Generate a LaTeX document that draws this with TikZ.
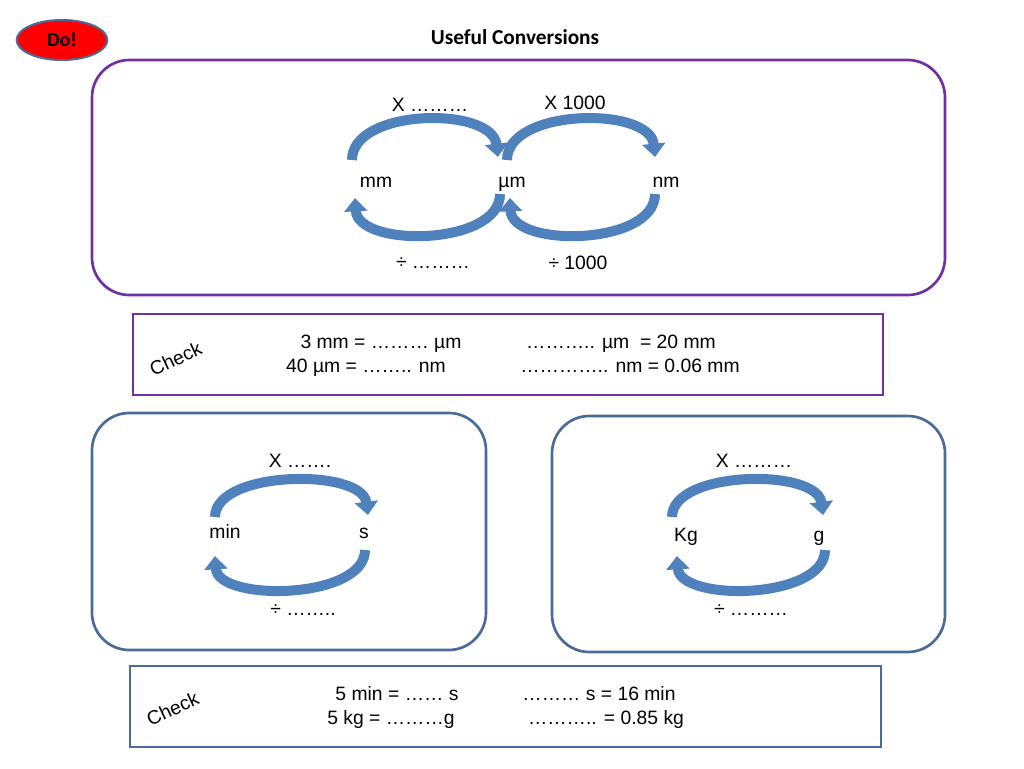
\documentclass[tikz,border=0pt]{standalone}
\usepackage{fontspec}
\setmainfont{Liberation Sans}
\newfontfamily\calib{Carlito}
\usetikzlibrary{arrows.meta,shapes.geometric}
\definecolor{arrblue}{HTML}{4F81BD}
\definecolor{boxblue}{HTML}{4A6A9A}
\definecolor{boxpurple}{HTML}{7030A0}
\tikzset{
  lbl/.style={font=\fontsize{14.5}{16}\selectfont, inner sep=1pt, text height=0.75em, text depth=0.22em},
  frame/.style={line width=2pt, rounded corners=28pt},
  chk/.style={line width=2pt},
  arr/.style={draw=arrblue, line width=7.5pt, -{Triangle[length=10pt,width=17pt]}},
}
\begin{document}
\begin{tikzpicture}[x=0.75pt,y=-0.75pt]
  \useasboundingbox (0,0) rectangle (1024,768);

  % heading
  \node[ellipse, draw=boxblue, fill=red, line width=1.5pt, minimum width=68pt, minimum height=30pt,
        font=\calib\bfseries\fontsize{15}{17}\selectfont] (do) at (62,40) {Do!};
  \node[font=\calib\bfseries\fontsize{16}{18}\selectfont] (title) at (515,37) {Useful Conversions};

  % length conversions
  \draw[frame, draw=boxpurple] (92,60) rectangle (945,295);
  \node[lbl] (mm) at (376,184) {mm};
  \node[lbl] (um) at (512,184) {µm};
  \node[lbl] (nm) at (666,184) {nm};
  \node[lbl] (xa) at (430,108) {X ………};
  \node[lbl] (xb) at (575,106) {X 1000};
  \node[lbl] (da) at (433,265) {÷ ………};
  \node[lbl] (db) at (578,266) {÷ 1000};
  \draw[arr] (352,160) .. controls (352,108) and (492,106) .. (498,157);
  \draw[arr] (507,160) .. controls (507,108) and (650,106) .. (655,157);
  \draw[arr] (500,194) .. controls (500,246) and (358,248) .. (355,198);
  \draw[arr] (655,194) .. controls (655,246) and (512,248) .. (510,198);

  % first check
  \draw[chk, draw=boxpurple] (133,314) rectangle (883,395);
  \node[lbl, rotate=25] (checka) at (177,362) {Check};
  \node[lbl] (qa) at (381,345) {3 mm = ……… µm};
  \node[lbl] (qb) at (366,369) {40 µm = …….. nm};
  \node[lbl] (qc) at (621,345) {……….. µm\ \ = 20 mm};
  \node[lbl] (qd) at (630,369) {………….. nm = 0.06 mm};

  % time conversions
  \draw[frame, draw=boxblue] (92,413) rectangle (486,650);
  \node[lbl] (min) at (225,535) {min};
  \node[lbl] (s) at (364,535) {s};
  \node[lbl] (xc) at (300,464) {X …….};
  \node[lbl] (dc) at (303,612) {÷ ……..};
  \draw[arr] (215,517) .. controls (215,470) and (362,468) .. (368,515);
  \draw[arr] (365,550) .. controls (365,600) and (218,602) .. (215,556);

  % mass conversions
  \draw[frame, draw=boxblue] (552,416) rectangle (945,652);
  \node[lbl] (kg) at (686,538) {Kg};
  \node[lbl] (g) at (819,538) {g};
  \node[lbl] (xd) at (754,464) {X ………};
  \node[lbl] (dd) at (751,612) {÷ ………};
  \draw[arr] (672,517) .. controls (672,470) and (817,468) .. (823,515);
  \draw[arr] (825,550) .. controls (825,600) and (680,602) .. (677,556);

  % second check
  \draw[chk, draw=boxblue] (130,666) rectangle (881,747);
  \node[lbl, rotate=25] (checkb) at (174,712) {Check};
  \node[lbl] (qe) at (397,697) {5 min = …… s};
  \node[lbl] (qf) at (391,721) {5 kg = ………g};
  \node[lbl] (qg) at (599,697) {……… s = 16 min};
  \node[lbl] (qh) at (606,721) {……….. = 0.85 kg};
\end{tikzpicture}
\end{document}
